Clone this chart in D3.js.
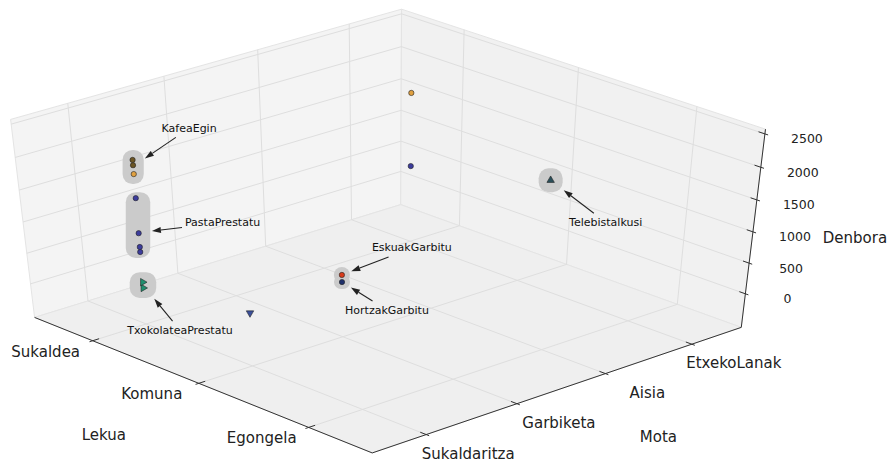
<!DOCTYPE html>
<html><head><meta charset="utf-8">
<script src="https://cdn.jsdelivr.net/npm/d3@7"></script>
<style>body{margin:0;background:#fff} svg{display:block} text{font-family:"DejaVu Sans",sans-serif}</style>
</head><body><svg id="c" width="887" height="462"></svg>
<script>
// ---------------- data ----------------
const lekuaCategories=["Sukaldea","Komuna","Egongela"];
const motaCategories=["Sukaldaritza","Garbiketa","Aisia","EtxekoLanak"];
const denboraTicks=[0,500,1000,1500,2000,2500];
const axisTitles=["Lekua","Mota","Denbora"];
const pointLekua=[0,0,0, 0,0,0,0, 0,0, 1, 1,1, 0,0, 2];
const pointMota=[0,0,0, 0,0,0,0, 0,0, 0, 1,1, 3,3, 2];
const pointDenbora=[2060,1980,1845, 1475,925,705,625, 135,40, 315, 460,345, 1840,685, 2135];
const pointKind=[0,0,1, 2,2,2,2, 3,3, 4, 5,6, 1,2, 7];
const pointActivity=["KafeaEgin","KafeaEgin","KafeaEgin","PastaPrestatu","PastaPrestatu","PastaPrestatu","PastaPrestatu","TxokolateaPrestatu","TxokolateaPrestatu",null,"EskuakGarbitu","HortzakGarbitu",null,null,"Telebistalkusi"];
const annotationNames=["KafeaEgin","PastaPrestatu","TxokolateaPrestatu","EskuakGarbitu","HortzakGarbitu","Telebistalkusi"];

// ---------------- layout / styles ----------------
const view={az:-42.7,el:41.3,dist:10};
const box={x:[-0.5625,2.5625],y:[-0.5833,3.5833],z:[-560,2570]};
const screen={sx:5166.0,tx:387.2,sy:-2634.2,ty:226.6};
const kindStyle=[
 {c:"#6b5524",s:"circle",r:0},{c:"#e0a040",s:"circle",r:0},{c:"#3c3c9c",s:"circle",r:0},
 {c:"#1f8f6f",s:"triangle",r:90},{c:"#3a4f9a",s:"triangle",r:180},{c:"#d83a1a",s:"circle",r:0},
 {c:"#1e2f6a",s:"circle",r:0},{c:"#2a4f5a",s:"triangle",r:0}];
const labelOffset={KafeaEgin:[56,-38],PastaPrestatu:[84,-10],TxokolateaPrestatu:[37,45],EskuakGarbitu:[70,-27],HortzakGarbitu:[45,28],Telebistalkusi:[55,42]};
const boxPad={KafeaEgin:[10,10],PastaPrestatu:[10,6],TxokolateaPrestatu:[13,10],EskuakGarbitu:[8,8],HortzakGarbitu:[8,7],Telebistalkusi:[12,12]};

// ---------------- projection (matplotlib mplot3d style) ----------------
const xs=d3.scaleLinear().domain(box.x).range([0,1]);
const ys=d3.scaleLinear().domain(box.y).range([0,1]);
const zs=d3.scaleLinear().domain(box.z).range([0,1]);
const pxS=d3.scaleLinear().domain([0,1]).range([screen.tx,screen.tx+screen.sx]);
const pyS=d3.scaleLinear().domain([0,1]).range([screen.ty,screen.ty+screen.sy]);
const proj=(function(){
 const a=view.az*Math.PI/180,e=view.el*Math.PI/180,dist=view.dist;
 const n=[Math.cos(a)*Math.cos(e),Math.sin(a)*Math.cos(e),Math.sin(e)];
 const E=[0.5+n[0]*dist,0.5+n[1]*dist,0.5+n[2]*dist];
 const ul=Math.hypot(n[0],n[1]);const u=[-n[1]/ul,n[0]/ul,0];
 const v=[n[1]*u[2]-n[2]*u[1],n[2]*u[0]-n[0]*u[2],n[0]*u[1]-n[1]*u[0]];
 return (x,y,z)=>{const p=[xs(x)-E[0],ys(y)-E[1],zs(z)-E[2]];
  const xv=u[0]*p[0]+u[1]*p[1];const yv=v[0]*p[0]+v[1]*p[1]+v[2]*p[2];const zv=n[0]*p[0]+n[1]*p[1]+n[2]*p[2];
  return [pxS(xv/(-zv)),pyS(yv/(-zv)),zv];};
})();
const Xb=box.x,Yb=box.y,Zb=box.z;

const svg=d3.select("#c");
const g=svg.append("g");
const poly=pts=>"M"+pts.map(p=>p[0].toFixed(2)+","+p[1].toFixed(2)).join("L")+"Z";
// panes
g.append("path").attr("d",poly([proj(Xb[0],Yb[0],Zb[0]),proj(Xb[0],Yb[1],Zb[0]),proj(Xb[0],Yb[1],Zb[1]),proj(Xb[0],Yb[0],Zb[1])])).attr("fill","#f4f4f4").attr("stroke","#e4e4e4");
g.append("path").attr("d",poly([proj(Xb[0],Yb[1],Zb[0]),proj(Xb[1],Yb[1],Zb[0]),proj(Xb[1],Yb[1],Zb[1]),proj(Xb[0],Yb[1],Zb[1])])).attr("fill","#f1f1f1").attr("stroke","#e4e4e4");
g.append("path").attr("d",poly([proj(Xb[0],Yb[0],Zb[0]),proj(Xb[1],Yb[0],Zb[0]),proj(Xb[1],Yb[1],Zb[0]),proj(Xb[0],Yb[1],Zb[0])])).attr("fill","#efefef").attr("stroke","#e4e4e4");
const line=(a,b,col,w)=>g.append("line").attr("x1",a[0]).attr("y1",a[1]).attr("x2",b[0]).attr("y2",b[1]).attr("stroke",col).attr("stroke-width",w);
const gridCol="#dedede";
lekuaCategories.forEach((c,i)=>{line(proj(i,Yb[0],Zb[0]),proj(i,Yb[1],Zb[0]),gridCol,1);line(proj(i,Yb[1],Zb[0]),proj(i,Yb[1],Zb[1]),gridCol,1);});
motaCategories.forEach((c,i)=>{line(proj(Xb[0],i,Zb[0]),proj(Xb[1],i,Zb[0]),gridCol,1);line(proj(Xb[0],i,Zb[0]),proj(Xb[0],i,Zb[1]),gridCol,1);});
denboraTicks.forEach(t=>{line(proj(Xb[0],Yb[0],t),proj(Xb[0],Yb[1],t),gridCol,1);line(proj(Xb[0],Yb[1],t),proj(Xb[1],Yb[1],t),gridCol,1);});
// axes
const axCol="#333";
line(proj(Xb[0],Yb[0],Zb[0]),proj(Xb[1],Yb[0],Zb[0]),axCol,1);
line(proj(Xb[1],Yb[0],Zb[0]),proj(Xb[1],Yb[1],Zb[0]),axCol,1);
line(proj(Xb[1],Yb[1],Zb[0]),proj(Xb[1],Yb[1],Zb[1]),axCol,1);
const dY=(Yb[1]-Yb[0])/12,dX=(Xb[1]-Xb[0])/12;
const txt=(p,s,size,anchor)=>g.append("text").attr("x",p[0]).attr("y",p[1]).attr("font-size",size).attr("text-anchor",anchor||"middle").attr("dominant-baseline","central").attr("fill","#222").text(s);
lekuaCategories.forEach((c,i)=>{line(proj(i,Yb[0]+0.2*dY,Zb[0]),proj(i,Yb[0]-0.1*dY,Zb[0]),axCol,1);const p=proj(i,Yb[0],Zb[0]);txt([p[0]-47,p[1]+11],c,15);});
motaCategories.forEach((c,i)=>{line(proj(Xb[1]-0.2*dX,i,Zb[0]),proj(Xb[1]+0.1*dX,i,Zb[0]),axCol,1);const p=proj(Xb[1],i,Zb[0]);txt([p[0]+42,p[1]+19],c,15);});
denboraTicks.forEach(t=>{line(proj(Xb[1]-0.2*dX,Yb[1],t),proj(Xb[1]+0.1*dX,Yb[1],t),axCol,1);const p=proj(Xb[1],Yb[1],t);txt([p[0]+42,p[1]+5],String(t),12.5);});
{const p=proj(1,Yb[0],Zb[0]);txt([p[0]-95,p[1]+52],axisTitles[0],15);}
{const p=proj(Xb[1],1.5,Zb[0]);txt([p[0]+97,p[1]+48],axisTitles[1],15);}
{const p=proj(Xb[1],Yb[1],1000);txt([p[0]+102,p[1]+6],axisTitles[2],15);}

// ---------------- points & annotations ----------------
const pts=pointLekua.map((x,i)=>({i,p:proj(x,pointMota[i],pointDenbora[i])}));
const ann=annotationNames.map(name=>{
 const ps=pts.filter(d=>pointActivity[d.i]===name).map(d=>d.p);
 const pd=boxPad[name];
 const rect={x0:d3.min(ps,p=>p[0])-pd[0],x1:d3.max(ps,p=>p[0])+pd[0],y0:d3.min(ps,p=>p[1])-pd[1],y1:d3.max(ps,p=>p[1])+pd[1]};
 const tgt=[d3.mean(ps,p=>p[0]),d3.mean(ps,p=>p[1])];
 return {name,rect,tgt};});
ann.forEach(a=>{const r=a.rect;const w=r.x1-r.x0,h=r.y1-r.y0;g.append("rect").attr("x",r.x0).attr("y",r.y0).attr("width",w).attr("height",h).attr("rx",Math.min(10,w/2,h/2)).attr("fill","#cbcbcb");});
pts.slice().sort((a,b)=>a.p[2]-b.p[2]).forEach(d=>{const st=kindStyle[pointKind[d.i]];
 g.append("path").attr("transform",`translate(${d.p[0]},${d.p[1]}) rotate(${st.r})`).attr("d",d3.symbol(st.s==="circle"?d3.symbolCircle:d3.symbolTriangle,st.s==="circle"?22:24)()).attr("fill",st.c).attr("stroke","#222").attr("stroke-width",0.6);});
ann.forEach(a=>{
 const off=labelOffset[a.name];const L=[a.tgt[0]+off[0],a.tgt[1]+off[1]];
 const t=g.append("text").attr("x",L[0]).attr("y",L[1]).attr("font-size",11).attr("text-anchor","middle").attr("dominant-baseline","central").attr("fill","#111").text(a.name);
 const tw=t.node().getComputedTextLength();
 const d=[L[0]-a.tgt[0],L[1]-a.tgt[1]];
 const r=a.rect;
 const te=Math.min(d[0]>0?(r.x1-a.tgt[0])/d[0]:(r.x0-a.tgt[0])/d[0],d[1]>0?(r.y1-a.tgt[1])/d[1]:(r.y0-a.tgt[1])/d[1]);
 const head=[a.tgt[0]+d[0]*(te+0.02),a.tgt[1]+d[1]*(te+0.02)];
 const s=Math.min((tw/2+3)/Math.abs(d[0]),9/Math.abs(d[1]));
 const tail=[L[0]-d[0]*s,L[1]-d[1]*s];
 const len=Math.hypot(tail[0]-head[0],tail[1]-head[1]);const ux=(tail[0]-head[0])/len,uy=(tail[1]-head[1])/len;
 const hl=9,hw=3;const base=[head[0]+ux*hl,head[1]+uy*hl];
 g.append("line").attr("x1",tail[0]).attr("y1",tail[1]).attr("x2",base[0]).attr("y2",base[1]).attr("stroke","#222").attr("stroke-width",1.1);
 g.append("path").attr("d",poly([head,[base[0]-uy*hw,base[1]+ux*hw],[base[0]+uy*hw,base[1]-ux*hw]])).attr("fill","#222");
});
</script></body></html>
